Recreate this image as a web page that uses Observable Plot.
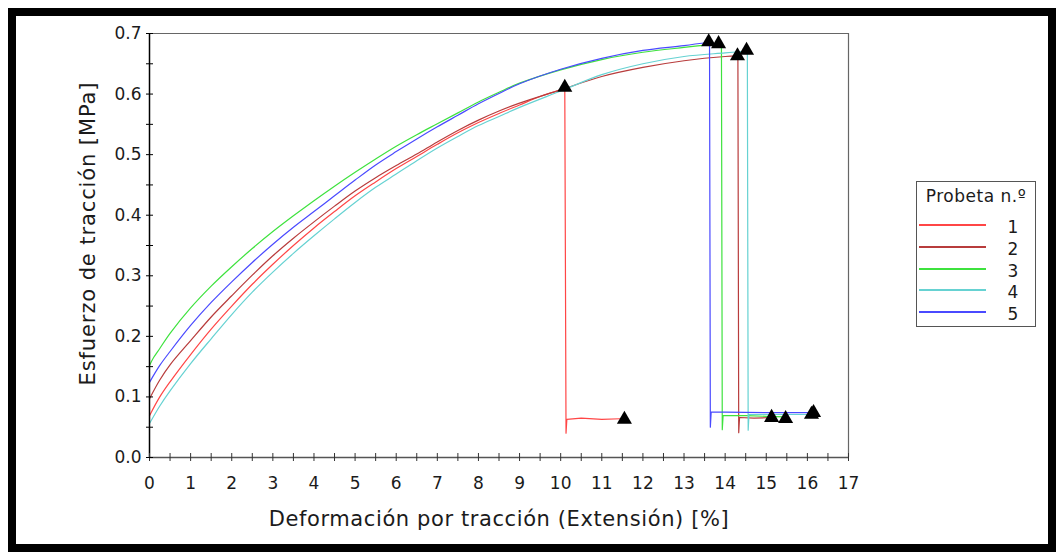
<!DOCTYPE html>
<html>
<head>
<meta charset="utf-8">
<script src="https://cdn.jsdelivr.net/npm/d3@7"></script>
<script src="https://cdn.jsdelivr.net/npm/@observablehq/plot@0.6"></script>
<style>
  html, body { margin: 0; padding: 0; background: #fff; }
  body { width: 1057px; height: 552px; position: relative; overflow: hidden; font-family: "DejaVu Sans", sans-serif; color: #1b1b1b; }
  #chart { position: absolute; left: 0; top: 0; }
  #frame { position: absolute; left: 8px; top: 8px; width: 1048px; height: 544px; box-sizing: border-box; border: 8px solid #000; pointer-events: none; }
  #legend { position: absolute; left: 916px; top: 181px; width: 120px; height: 146px; box-sizing: border-box; border: 1px solid #555; background: #fff; }
  #legend .title { position: absolute; left: 0; top: 4px; width: 118px; text-align: center; font-size: 17px; letter-spacing: 0.5px; }
  #legend .sw { position: absolute; left: 2px; width: 67px; height: 2px; }
  #legend .lb { position: absolute; left: 84px; width: 24px; text-align: center; font-size: 17px; line-height: 20px; }
</style>
</head>
<body>
<div id="chart"></div>
<div id="legend"></div>
<div id="frame"></div>
<script>
// ---- Data ----
const probetas = ["1", "2", "3", "4", "5"];
const colores = ["#ff4646", "#b83c3c", "#3ee23e", "#66d2d2", "#4a4aff"];

// Rising part (strain %, stress MPa)
const def1 = [0,0.25,0.5,1,1.5,2,2.5,3,3.5,4,4.5,5,5.5,6,6.5,7,7.5,8,8.5,9,9.5,10.1];
const esf1 = [.069,.100,.125,.170,.212,.250,.286,.319,.350,.379,.406,.432,.455,.477,.497,.517,.536,.553,.568,.582,.596,.609];
const def2 = [0,0.25,0.5,1,1.5,2,2.5,3,3.5,4,4.5,5,5.5,6,6.5,7,7.5,8,8.5,9,10,11,12,13,14,14.31];
const esf2 = [.097,.128,.153,.193,.232,.267,.301,.333,.362,.389,.415,.440,.462,.482,.501,.521,.540,.557,.572,.585,.607,.629,.644,.655,.662,.663];
const def3 = [0,0.1,0.25,0.5,1,1.5,2,2.5,3,3.5,4,4.5,5,5.5,6,6.5,7,7.5,8,8.5,9,10,11,12,13,13.84];
const esf3 = [.152,.165,.180,.205,.247,.283,.315,.345,.373,.399,.424,.448,.471,.493,.514,.533,.551,.569,.587,.603,.618,.640,.657,.669,.677,.683];
const def4 = [0,0.25,0.5,1,1.5,2,2.5,3,3.5,4,4.5,5,5.5,6,6.5,7,7.5,8,8.5,9,10,11,12,13,14,14.52];
const esf4 = [.056,.085,.110,.155,.196,.236,.273,.306,.337,.366,.394,.421,.446,.468,.490,.511,.530,.548,.563,.578,.605,.632,.650,.662,.668,.671];
const def5 = [0,0.25,0.5,1,1.5,2,2.5,3,3.5,4,4.5,5,5.5,6,6.5,7,7.5,8,8.5,9,10,11,12,13,13.62];
const esf5 = [.124,.152,.175,.218,.256,.290,.322,.352,.380,.406,.432,.458,.483,.505,.526,.546,.565,.584,.601,.617,.641,.659,.672,.680,.686];

// Break + residual part
const defR1 = [10.1,10.13,10.15,10.5,11,11.45];
const esfR1 = [.609,.040,.063,.065,.063,.064];
const defR2 = [14.31,14.33,14.35,14.7,15.13];
const esfR2 = [.663,.041,.066,.065,.066];
const defR3 = [13.84,13.91,13.93,13.95,14.5,15,15.45];
const esfR3 = [.683,.682,.046,.069,.069,.068,.067];
const defR4 = [14.52,14.54,14.56,14.58,15,15.5,16.1];
const esfR4 = [.671,.671,.045,.071,.071,.071,.071];
const defR5 = [13.62,13.64,13.66,14,15,16.15];
const esfR5 = [.686,.050,.075,.075,.074,.074];

// Markers (triangles): maximum and end of test
const defMax = [10.1, 14.3, 13.84, 14.52, 13.6];
const esfMax = [0.611, 0.663, 0.683, 0.672, 0.686];
const defFin = [11.55, 15.13, 15.47, 16.1, 16.15];
const esfFin = [0.063, 0.066, 0.064, 0.071, 0.074];

// Axes
const xTicksMenores = d3.range(0, 17.01, 0.5);
const xTicksEtiq = d3.range(0, 18, 1);
const yTicksMenores = d3.range(0, 0.7001, 0.05);
const yTicksEtiq = [0, 0.1, 0.2, 0.3, 0.4, 0.5, 0.6, 0.7];
const tituloX = "Deformación por tracción (Extensión) [%]";
const tituloY = "Esfuerzo de tracción [MPa]";
const tituloLeyenda = "Probeta n.º";

// ---- Build tables ----
const subida = [[def1,esf1],[def2,esf2],[def3,esf3],[def4,esf4],[def5,esf5]];
const rotura = [[defR1,esfR1],[defR2,esfR2],[defR3,esfR3],[defR4,esfR4],[defR5,esfR5]];
const mk = (arr) => arr.flatMap(([xs, ys], i) => xs.map((x, j) => ({x, y: ys[j], p: probetas[i]})));
const datSubida = mk(subida);
const datRotura = mk(rotura);
const marcadores = [
  ...defMax.map((x, i) => ({x, y: esfMax[i]})),
  ...defFin.map((x, i) => ({x, y: esfFin[i]}))
];

const lineMarks = probetas.flatMap((p, i) => [
  Plot.line(datSubida.filter(d => d.p === p), {x: "x", y: "y", stroke: colores[i], strokeWidth: 1.2, curve: "catmull-rom"}),
  Plot.line(datRotura.filter(d => d.p === p), {x: "x", y: "y", stroke: colores[i], strokeWidth: 1.2})
]);

const chart = Plot.plot({
  width: 1057,
  height: 552,
  marginLeft: 149,
  marginRight: 209,
  marginTop: 33,
  marginBottom: 95,
  x: {domain: [0, 17]},
  y: {domain: [0, 0.7]},
  style: {fontFamily: "DejaVu Sans, sans-serif", fontSize: "17px", color: "#1b1b1b", background: "transparent", overflow: "visible"},
  marks: [
    Plot.ruleY([0.7], {stroke: "#666", strokeWidth: 1.2}),
    Plot.ruleX([17], {stroke: "#666", strokeWidth: 1.2}),
    ...lineMarks,
    Plot.ruleY([0], {stroke: "#555", strokeWidth: 1.5}),
    Plot.ruleX([0], {stroke: "#000", strokeWidth: 1.5}),
    Plot.axisX({ticks: xTicksMenores, tickSize: 8, dy: -4, tickFormat: () => "", stroke: "#333", label: null}),
    Plot.axisX({ticks: xTicksEtiq, tickSize: 0, tickPadding: 19, tickFormat: d => String(d), label: null}),
    Plot.axisY({ticks: yTicksMenores, tickSize: 7, dx: 4, tickFormat: () => "", stroke: "#000", label: null}),
    Plot.axisY({ticks: yTicksEtiq, tickSize: 0, tickPadding: 8, tickFormat: d => d.toFixed(1), label: null}),
    Plot.dot(marcadores, {x: "x", y: "y", symbol: "triangle", r: 5.6, fill: "#000", stroke: "none"}),
    Plot.text([tituloX], {text: d => d, frameAnchor: "bottom", textAnchor: "middle", lineAnchor: "middle", dy: 62, fontSize: 21}),
    Plot.text([tituloY], {text: d => d, frameAnchor: "left", textAnchor: "middle", lineAnchor: "middle", dx: -61, dy: -12, rotate: -90, fontSize: 21})
  ]
});
chart.querySelectorAll("text").forEach(t => {
  if (t.textContent === tituloX) t.setAttribute("letter-spacing", "0.6");
  if (t.textContent === tituloY) t.setAttribute("letter-spacing", "0.9");
});
document.getElementById("chart").appendChild(chart);

// ---- Legend ----
const leg = document.getElementById("legend");
const tt = document.createElement("div");
tt.className = "title";
tt.textContent = tituloLeyenda;
leg.appendChild(tt);
probetas.forEach((p, i) => {
  const yc = 43 + i * 21.8;
  const sw = document.createElement("div");
  sw.className = "sw";
  sw.style.top = (yc - 1) + "px";
  sw.style.background = colores[i];
  leg.appendChild(sw);
  const lb = document.createElement("div");
  lb.className = "lb";
  lb.style.top = (yc - 8) + "px";
  lb.textContent = p;
  leg.appendChild(lb);
});
</script>
</body>
</html>
